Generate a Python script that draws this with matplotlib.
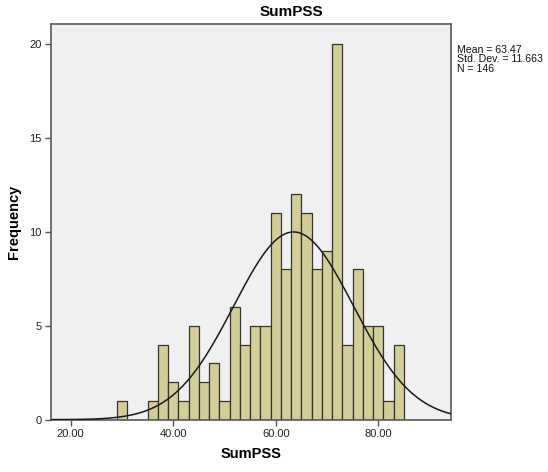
import numpy as np
import matplotlib
matplotlib.use('Agg')
import matplotlib.pyplot as plt

plt.rcParams['font.family'] = ['Liberation Sans', 'DejaVu Sans']

# histogram bins (SumPSS), width 2
bin_start = 29.0
bin_width = 2.0
counts = [1, 0, 0, 1, 4, 2, 1, 5, 2, 3, 1, 6, 4, 5,
          5, 11, 8, 12, 11, 8, 9, 20, 4, 8, 5, 5, 1, 4]

mean_val = 63.47
std_val = 11.663
n_val = 146

x_ticks = [20, 40, 60, 80]
x_tick_labels = ['20.00', '40.00', '60.00', '80.00']
y_ticks = [0, 5, 10, 15, 20]

edges = bin_start + bin_width * np.arange(len(counts) + 1)

fig = plt.figure(figsize=(5.48, 4.72), dpi=100)
ax = fig.add_axes([0.0925, 0.1108, 0.7299, 0.8384])
ax.set_facecolor('#F0F0F0')

ax.bar(edges[:-1], counts, width=bin_width, align='edge',
       color='#D3CE98', edgecolor='#333333', linewidth=0.9, zorder=2)

# normal curve scaled to the counts
xs = np.linspace(16.1, 94.1, 400)
ys = n_val * bin_width / (std_val * np.sqrt(2 * np.pi)) * np.exp(-0.5 * ((xs - mean_val) / std_val) ** 2)
ax.plot(xs, ys, color='#1A1A1A', linewidth=1.1, zorder=3)

ax.set_xlim(16.1, 94.1)
ax.set_ylim(0, 21.05)
ax.set_xticks(x_ticks)
ax.set_xticklabels(x_tick_labels)
ax.set_yticks(y_ticks)
ax.tick_params(axis='both', direction='out', length=4.5, width=1, color='#555555',
               labelsize=8, labelcolor='#222222', pad=2)
for s in ax.spines.values():
    s.set_color('#5A5A5A')
    s.set_linewidth(1.2)

ax.set_xlabel('SumPSS', fontsize=10.5, fontweight='bold', labelpad=6)
ax.set_ylabel('Frequency', fontsize=10.5, fontweight='bold', labelpad=6)
fig.text(291 / 548, 1 - 11.5 / 472, 'SumPSS', fontsize=11, fontweight='bold',
         ha='center', va='center')

stats_lines = [f'Mean = {mean_val:.2f}', f'Std. Dev. = {std_val:.3f}', f'N = {n_val}']
for i, line in enumerate(stats_lines):
    fig.text(457 / 548, 1 - (50 + 9.5 * i) / 472, line,
             fontsize=7.6, va='center', ha='left', color='#111111')

fig.savefig('out.png', dpi=100)
